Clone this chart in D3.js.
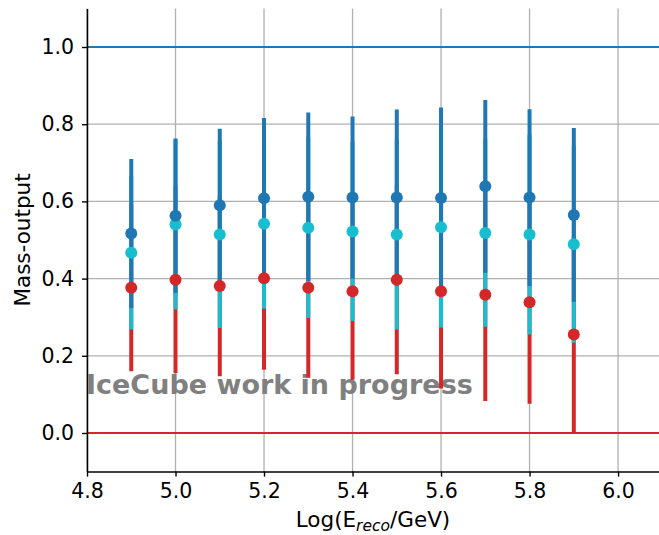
<!DOCTYPE html>
<html>
<head>
<meta charset="utf-8">
<script src="https://cdn.jsdelivr.net/npm/d3@7"></script>
<style>
  body { margin: 0; background: #fff; }
  svg { display: block; font-family: "DejaVu Sans", sans-serif; }
</style>
</head>
<body>
<script>

// Energy bins (log10 of reconstructed energy)
var energy = [4.9, 5.0, 5.1, 5.2, 5.3, 5.4, 5.5, 5.6, 5.7, 5.8, 5.9];

// Mean mass-output and symmetric error per class
var blueMean = [0.517, 0.563, 0.590, 0.608, 0.612, 0.610, 0.610, 0.609, 0.639, 0.610, 0.565];
var blueErr  = [0.193, 0.200, 0.198, 0.208, 0.218, 0.210, 0.228, 0.234, 0.224, 0.229, 0.225];
var cyanMean = [0.467, 0.540, 0.514, 0.542, 0.532, 0.522, 0.514, 0.533, 0.518, 0.514, 0.489];
var cyanErr  = [0.199, 0.220, 0.242, 0.220, 0.234, 0.232, 0.246, 0.260, 0.243, 0.259, 0.255];
var redMean  = [0.376, 0.397, 0.381, 0.401, 0.376, 0.367, 0.397, 0.367, 0.358, 0.339, 0.255];
var redErr   = [0.216, 0.242, 0.234, 0.237, 0.233, 0.229, 0.245, 0.252, 0.275, 0.263, 0.255];

// Reference lines (true mass output of the classes)
var refLines = [{value: 1.0, color: "#1f77b4"}, {value: 0.0, color: "#d62728"}];

// Tick values
var xTicks = [4.8, 5.0, 5.2, 5.4, 5.6, 5.8, 6.0];
var yTicks = [0.0, 0.2, 0.4, 0.6, 0.8, 1.0];

// drawing order: red first, blue ends up on top
var series = [
  {mean: redMean, err: redErr, color: "#d62728"},
  {mean: cyanMean, err: cyanErr, color: "#17becf"},
  {mean: blueMean, err: blueErr, color: "#1f77b4"}
];

var width = 659, height = 535;
var margins = {top: 8.4, bottom: 63.4, left: 87, right: 0};

var svg = d3.select("body")
            .append("svg")
            .attr("width", width)
            .attr("height", height);

var xScale = d3.scaleLinear()
               .domain([4.8, 6.0925])
               .range([margins.left, width - margins.right]);

var yScale = d3.scaleLinear()
               .domain([-0.1, 1.1])
               .range([height - margins.bottom, margins.top]);

// Grid lines
svg.append("g")
   .selectAll("line.vgrid")
   .data(xTicks)
   .enter()
   .append("line")
     .attr("x1", d => xScale(d))
     .attr("x2", d => xScale(d))
     .attr("y1", yScale.range()[0])
     .attr("y2", yScale.range()[1])
     .attr("stroke", "#b0b0b0")
     .attr("stroke-width", 1.3);

svg.append("g")
   .selectAll("line.hgrid")
   .data(yTicks)
   .enter()
   .append("line")
     .attr("x1", xScale.range()[0])
     .attr("x2", xScale.range()[1])
     .attr("y1", d => yScale(d))
     .attr("y2", d => yScale(d))
     .attr("stroke", "#b0b0b0")
     .attr("stroke-width", 1.3);

// Watermark
svg.append("text")
   .attr("x", xScale(4.8) - 1)
   .attr("y", yScale(0.1))
   .attr("font-size", "27px")
   .attr("font-weight", "bold")
   .attr("fill", "#808080")
   .text("IceCube work in progress");

// Error bars for every class
series.forEach(function(s){
  svg.append("g")
     .selectAll("line")
     .data(energy)
     .enter()
     .append("line")
       .attr("x1", d => xScale(d))
       .attr("x2", d => xScale(d))
       .attr("y1", (d, i) => yScale(s.mean[i] + s.err[i]))
       .attr("y2", (d, i) => yScale(s.mean[i] - s.err[i]))
       .attr("stroke", s.color)
       .attr("stroke-width", 4);
});

// Horizontal reference lines
svg.append("g")
   .selectAll("line")
   .data(refLines)
   .enter()
   .append("line")
     .attr("x1", xScale.range()[0])
     .attr("x2", xScale.range()[1])
     .attr("y1", d => yScale(d.value))
     .attr("y2", d => yScale(d.value))
     .attr("stroke", d => d.color)
     .attr("stroke-width", 2.2);

// Markers
series.forEach(function(s){
  svg.append("g")
     .selectAll("circle")
     .data(energy)
     .enter()
     .append("circle")
       .attr("cx", d => xScale(d))
       .attr("cy", (d, i) => yScale(s.mean[i]))
       .attr("r", 6)
       .attr("fill", s.color);
});

// Axes (left and bottom only)
var xAxis = d3.axisBottom(xScale)
              .tickValues(xTicks)
              .tickFormat(d3.format(".1f"))
              .tickSizeInner(5)
              .tickSizeOuter(0)
              .tickPadding(7);
var yAxis = d3.axisLeft(yScale)
              .tickValues(yTicks)
              .tickFormat(d3.format(".1f"))
              .tickSizeInner(5)
              .tickSizeOuter(0)
              .tickPadding(8);

var gx = svg.append("g")
   .attr("transform", "translate(0," + (height - margins.bottom) + ")")
   .call(xAxis);
var gy = svg.append("g")
   .attr("transform", "translate(" + margins.left + ",0)")
   .call(yAxis);

[gx, gy].forEach(function(g){
  g.selectAll("text")
   .attr("font-size", "20.5px")
   .attr("font-family", "DejaVu Sans")
   .attr("fill", "#000");
  g.selectAll("line").attr("stroke", "#000").attr("stroke-width", 1.4);
  g.select(".domain").attr("stroke", "#000").attr("stroke-width", 1.5);
});

// Axis labels
var xlabel = svg.append("text")
   .attr("x", (margins.left + width) / 2)
   .attr("y", 527)
   .attr("text-anchor", "middle")
   .attr("font-size", "21.5px")
   .attr("fill", "#000");
xlabel.append("tspan").text("Log(E");
xlabel.append("tspan")
   .attr("font-size", "15.5px")
   .attr("font-style", "italic")
   .attr("dy", 3.5)
   .text("reco");
xlabel.append("tspan")
   .attr("dy", -3.5)
   .text("/GeV)");

svg.append("text")
   .attr("transform", "translate(22," + ((margins.top + height - margins.bottom) / 2) + ") rotate(-90)")
   .attr("text-anchor", "middle")
   .attr("dy", "0.35em")
   .attr("font-size", "21.5px")
   .attr("fill", "#000")
   .text("Mass-output");

</script>
</body>
</html>
